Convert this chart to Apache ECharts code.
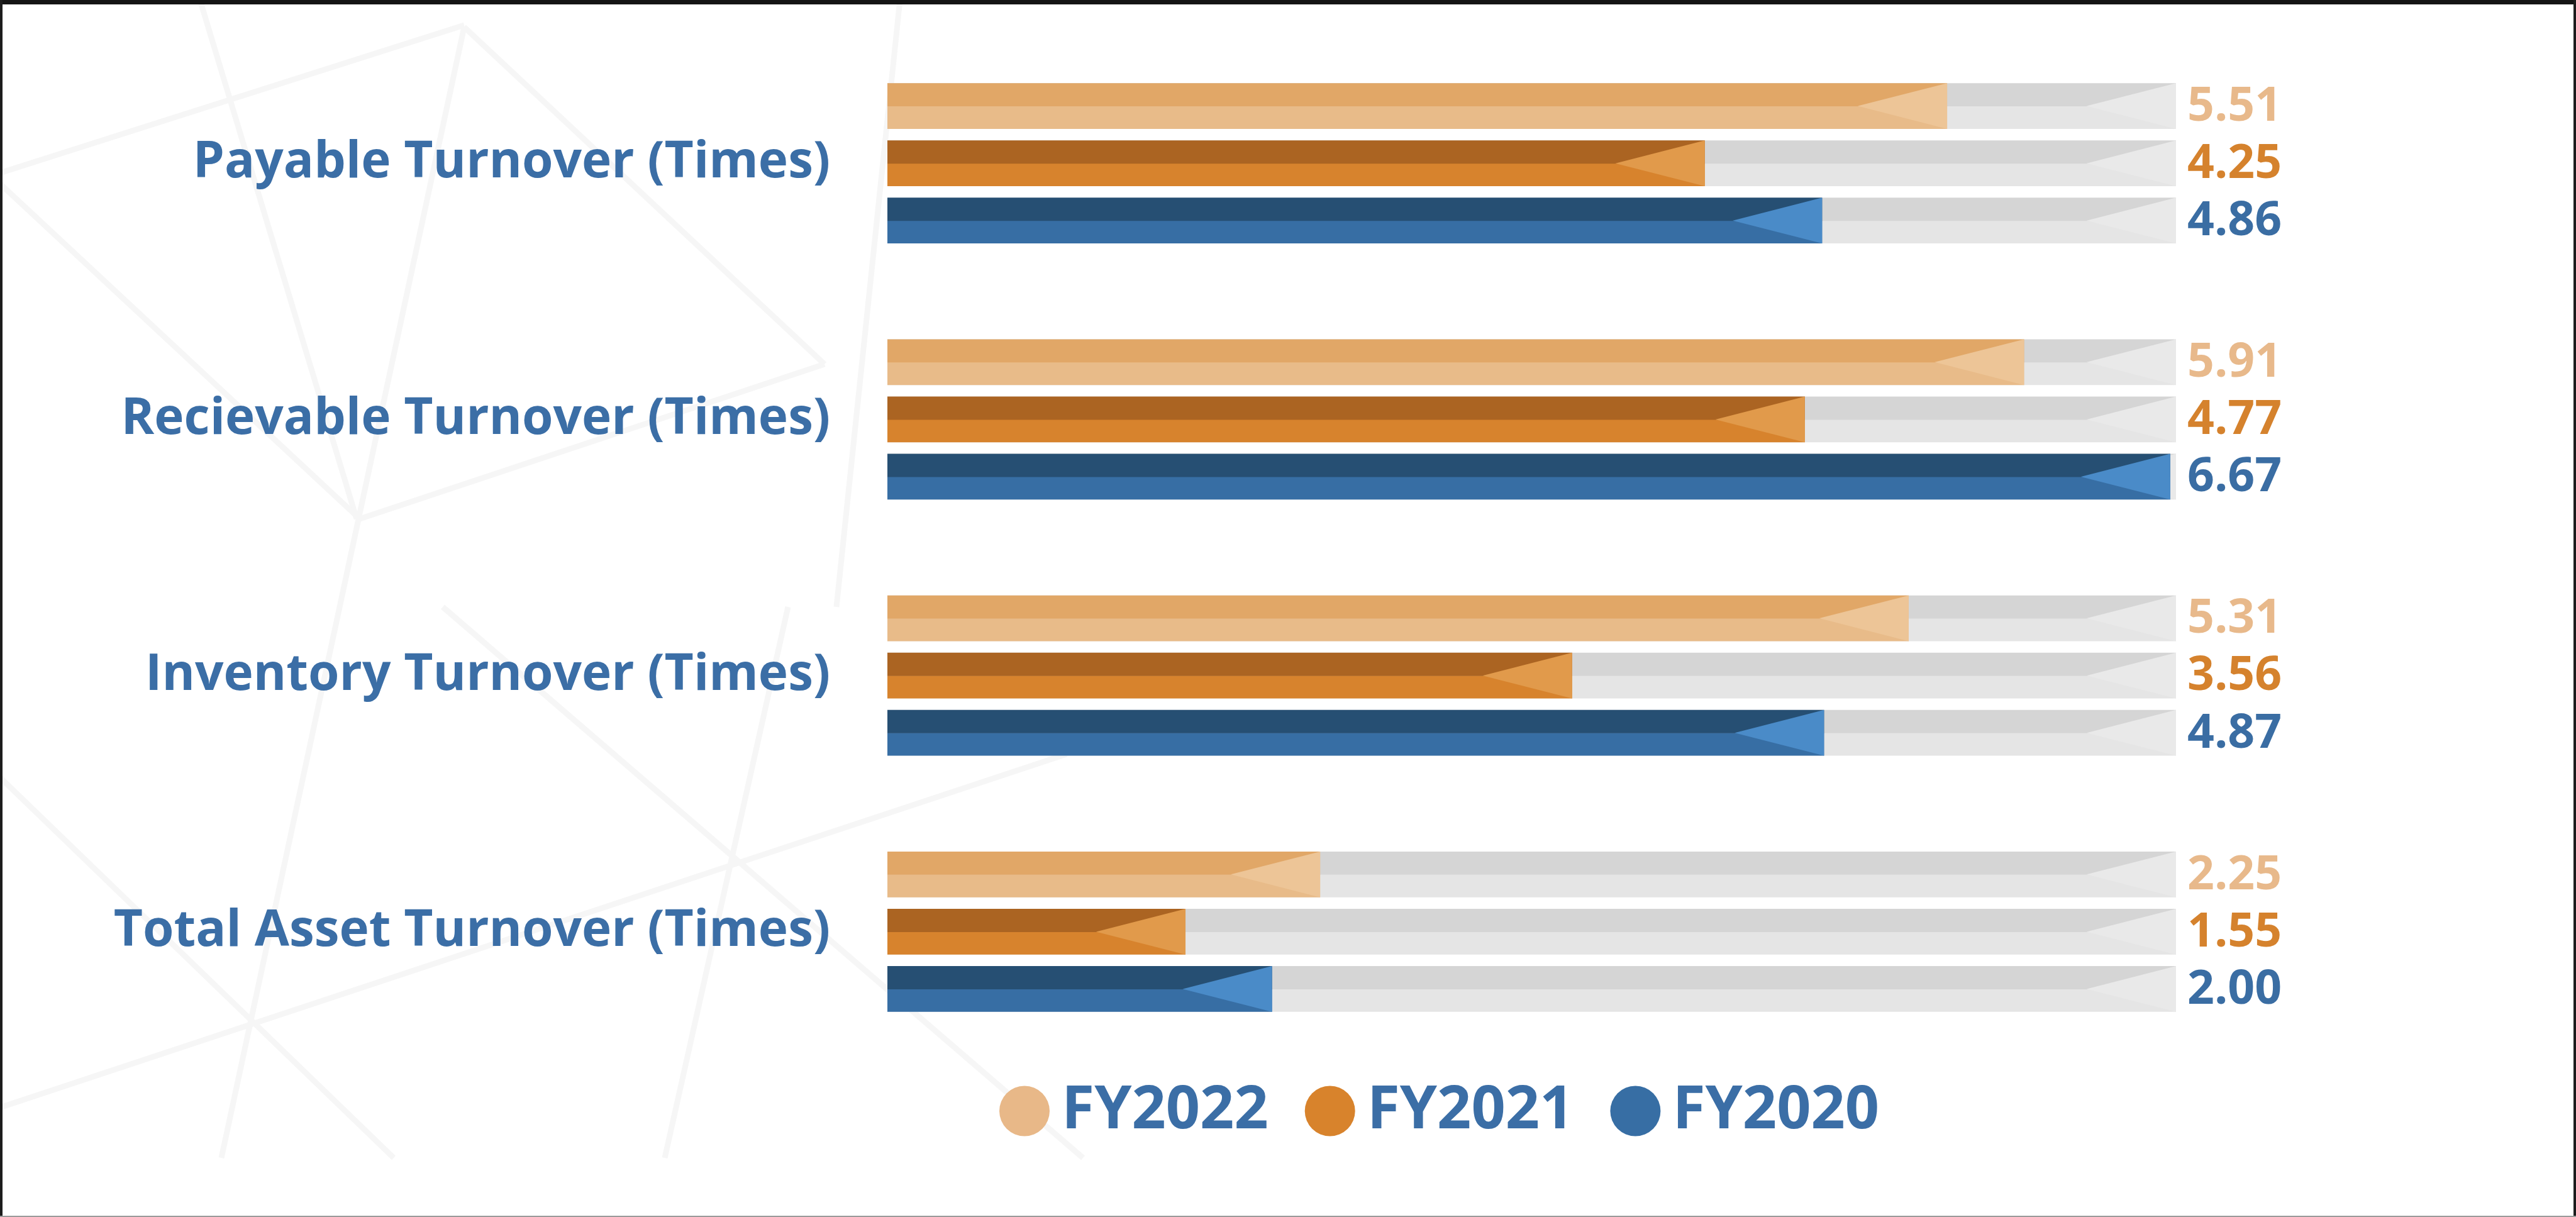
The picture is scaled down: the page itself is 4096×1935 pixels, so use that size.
<!DOCTYPE html>
<html>
<head>
<meta charset="utf-8">
<script src="https://cdn.jsdelivr.net/npm/echarts@6/dist/echarts.min.js"></script>
<style>
  html, body { margin: 0; padding: 0; background: #ffffff; }
  #chart { width: 4096px; height: 1935px; }
</style>
</head>
<body>
<div id="chart"></div>
<script>
// ---- data ----
const categories = [
  'Payable Turnover (Times)',
  'Recievable Turnover (Times)',
  'Inventory Turnover (Times)',
  'Total Asset Turnover (Times)'
];
const seriesNames = ['FY2022', 'FY2021', 'FY2020'];
const fy2022 = [5.51, 5.91, 5.31, 2.25];
const fy2021 = [4.25, 4.77, 3.56, 1.55];
const fy2020 = [4.86, 6.67, 4.87, 2.00];
const axisMax = 6.7;

// ---- styles ----
const palettes = [
  { top: '#e1a767', bottom: '#e8bb89', tip: '#edc597', label: '#e8b98b', legend: '#e8b888' },
  { top: '#ab6422', bottom: '#d7832d', tip: '#e19a4b', label: '#d5822d', legend: '#d8832c' },
  { top: '#264f73', bottom: '#376ea4', tip: '#4a8bc8', label: '#3a6da3', legend: '#376ea4' }
];
const track = { top: '#d5d5d5', bottom: '#e5e5e5', tip: '#e9e9e9' };
const textBlue = '#3b6ea6';
const fontFamily = '"Open Sans", "Noto Sans", sans-serif';

// one bevelled bar: dark upper half, base lower half, light arrow tip at the end
function bevelBar(xa, xb, y0, h, c) {
  const w = Math.max(0, xb - xa);
  const tw = Math.min(h * 1.95, w);
  return [
    { type: 'rect', shape: { x: xa, y: y0 + h / 2, width: w, height: h / 2 }, style: { fill: c.bottom } },
    { type: 'rect', shape: { x: xa, y: y0, width: w, height: h / 2 + 0.5 }, style: { fill: c.top } },
    { type: 'polygon', shape: { points: [[xb - tw, y0 + h / 2], [xb, y0], [xb, y0 + h]] }, style: { fill: c.tip } }
  ];
}

function makeRender(slot) {
  const c = palettes[slot];
  return function (params, api) {
    const cat = api.value(0);
    const val = api.value(1);
    const band = api.size([0, 1])[1];
    const h = band * 0.179;
    const pitch = band * 0.2235;
    const origin = api.coord([0, cat]);
    const cy = origin[1] + (slot - 1) * pitch;
    const y0 = cy - h / 2;
    const xEnd = api.coord([val, cat])[0];
    const xTrack = api.coord([axisMax, cat])[0];
    const children = []
      .concat(bevelBar(origin[0], xTrack, y0, h, track))
      .concat(bevelBar(origin[0], xEnd, y0, h, c));
    children.push({
      type: 'text',
      style: {
        x: xTrack + 18, y: cy + 2,
        text: val.toFixed(2),
        fill: c.label,
        font: 'bold 75px ' + fontFamily,
        verticalAlign: 'middle', align: 'left'
      }
    });
    return { type: 'group', children: children };
  };
}

const seriesValues = [fy2022, fy2021, fy2020];

// faint decorative background lines
const decoLines = [
  [[0, 275], [738, 40]],
  [[738, 43], [1311, 579]],
  [[318, 0], [567, 825]],
  [[738, 43], [352, 1841]],
  [[0, 292], [572, 825]],
  [[572, 825], [1311, 579]],
  [[1431, 0], [1330, 965]],
  [[0, 1761], [1696, 1199]],
  [[0, 1236], [626, 1841]],
  [[1253, 965], [1057, 1841]],
  [[704, 965], [1722, 1841]]
];

const graphics = decoLines.map(function (p) {
  return {
    type: 'line', silent: true, z: -10,
    shape: { x1: p[0][0], y1: p[0][1], x2: p[1][0], y2: p[1][1] },
    style: { stroke: '#f6f6f6', lineWidth: 9 }
  };
}).concat([
  { type: 'rect', silent: true, z: 100, shape: { x: 0, y: 0, width: 4096, height: 7 }, style: { fill: '#141414' } },
  { type: 'rect', silent: true, z: 100, shape: { x: 0, y: 0, width: 4, height: 1935 }, style: { fill: '#1c1c1c' } },
  { type: 'rect', silent: true, z: 100, shape: { x: 4092, y: 0, width: 4, height: 1935 }, style: { fill: '#1c1c1c' } },
  { type: 'rect', silent: true, z: 100, shape: { x: 0, y: 1933, width: 4096, height: 2 }, style: { fill: '#9a9a9a' } }
]);

const chart = echarts.init(document.getElementById('chart'), null, { renderer: 'canvas' });
chart.setOption({
  animation: false,
  backgroundColor: '#ffffff',
  graphic: graphics,
  grid: { left: 1411, right: 636, top: 56, height: 1629, containLabel: false, outerBoundsMode: 'none' },
  xAxis: {
    type: 'value', min: 0, max: axisMax, show: false,
    splitLine: { show: false }
  },
  yAxis: {
    type: 'category', data: categories, inverse: true,
    axisLine: { show: false }, axisTick: { show: false }, splitLine: { show: false },
    axisLabel: {
      color: textBlue, fontSize: 80, fontWeight: 'bold', fontFamily: fontFamily,
      margin: 91, padding: [0, 0, 42, 0]
    }
  },
  legend: {
    data: seriesNames, left: 1584, top: 1714, orient: 'horizontal',
    icon: 'circle', itemWidth: 80, itemHeight: 80, itemGap: 58,
    selectedMode: false,
    textStyle: { color: textBlue, fontSize: 95, fontWeight: 'bold', fontFamily: fontFamily, padding: [0, 0, 0, 14] }
  },
  series: seriesNames.map(function (name, i) {
    return {
      type: 'custom', name: name,
      renderItem: makeRender(i),
      itemStyle: { color: palettes[i].legend },
      encode: { x: 1, y: 0 },
      data: seriesValues[i].map(function (v, k) { return [k, v]; })
    };
  })
});
</script>
</body>
</html>
